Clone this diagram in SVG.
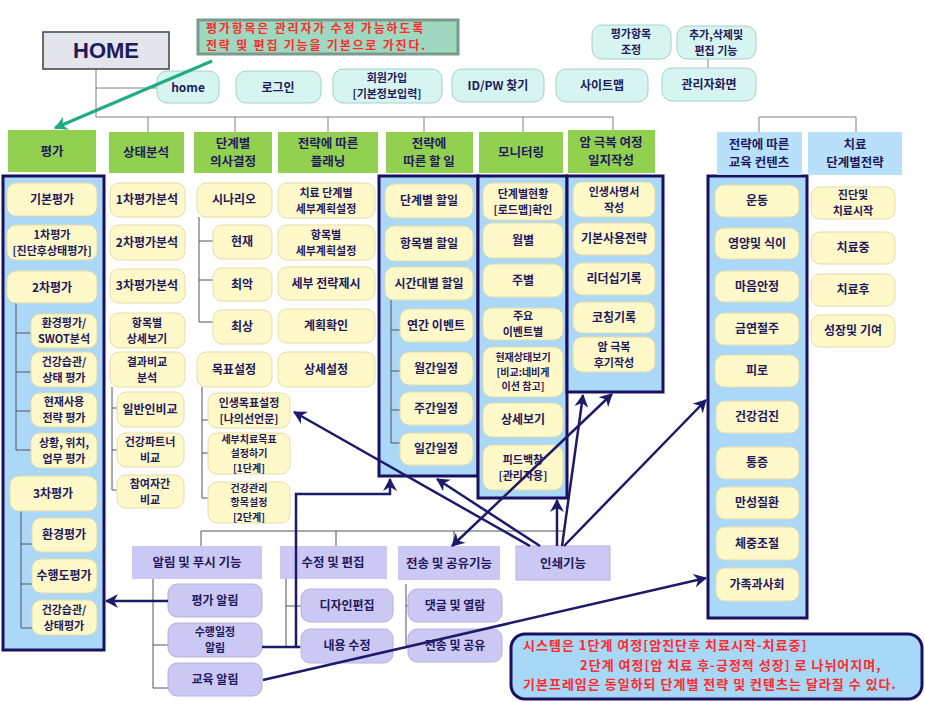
<svg xmlns="http://www.w3.org/2000/svg" width="925" height="702" viewBox="0 0 925 702">
<defs>
<style>
.t{font-family:"Noto Sans CJK KR","Noto Sans",sans-serif;font-size:12px;font-weight:bold;fill:#1e1a5c;text-anchor:middle}
.s{font-size:11px}
.x{font-size:10px}
.th{font-family:"Noto Sans CJK KR","Noto Sans",sans-serif;font-size:12.5px;font-weight:bold;fill:#1e1a5c;text-anchor:middle}
.tr{font-family:"Noto Sans CJK KR","Noto Sans",sans-serif;font-size:13px;font-weight:bold;fill:#ff2a2a;letter-spacing:1px}
.tn{font-family:"Noto Sans CJK KR","Noto Sans",sans-serif;font-size:12px;font-weight:bold;fill:#ff2a2a;letter-spacing:1.8px}
.it{fill:#fff8c8;stroke:#e6dcaa;stroke-width:1}
.cy{fill:#d6f5f0;stroke:#a8d0c8;stroke-width:1}
.gr{fill:#92d050}
.bl{fill:#b8e0fa}
.col{fill:#aad8f6;stroke:#1a1060;stroke-width:3}
.lv{fill:#ccc8f4;stroke:#b8b0e0;stroke-width:1}
.lh{fill:#ccc8f4}
.ln{stroke:#505060;stroke-width:1;fill:none}
.lg{stroke:#808080;stroke-width:1;fill:none}
.ar{stroke:#1e1a6a;stroke-width:2.5;fill:none;marker-end:url(#ah)}
</style>
<marker id="ah" markerUnits="userSpaceOnUse" markerWidth="16" markerHeight="16" refX="12" refY="7" orient="auto">
<path d="M0,0 L13,7 L0,14 L4,7 z" fill="#1e1a6a"/>
</marker>
<marker id="ahs" markerUnits="userSpaceOnUse" markerWidth="16" markerHeight="16" refX="1" refY="7" orient="auto">
<path d="M13,0 L0,7 L13,14 L9,7 z" fill="#1e1a6a"/>
</marker>
<marker id="ag" markerUnits="userSpaceOnUse" markerWidth="16" markerHeight="16" refX="12" refY="7" orient="auto">
<path d="M0,0 L13,7 L0,14 L4,7 z" fill="#22aa80"/>
</marker>
</defs>
<rect width="925" height="702" fill="#ffffff"/>

<g id="columns">
<rect class="col" x="3" y="176" width="101" height="474"/>
<rect class="col" x="379" y="176" width="99" height="300"/>
<rect class="col" x="478" y="176" width="89" height="322"/>
<rect class="col" x="567" y="176" width="96" height="216"/>
<rect class="col" x="708" y="176" width="99" height="442"/>
</g>

<g id="connectors">
<path class="lg" d="M96,69 V117 M96,88 H157 M96,117 H613 M148,117 V132 M235,117 V132 M328,117 V132 M424,117 V132 M523,117 V132 M613,117 V132"/>
<path class="lg" d="M759,132 V117 H856 V132 M708,59 V68"/>
<path class="ln" d="M16,303 V450 M16,333 H31 M16,372 H31 M16,411 H31 M16,450 H31"/>
<path class="ln" d="M21,511 V628 M21,544 H32 M21,584 H32 M21,628 H32"/>
<path class="ln" d="M112,387 V490 M112,408 H117 M112,450 H117 M112,490 H117"/>
<path class="ln" d="M199,217 V322 M199,241 H213 M199,280 H213 M199,322 H213"/>
<path class="ln" d="M202,387 V498 M202,420 H208 M202,453 H208 M202,498 H208"/>
<path class="ln" d="M391,300 V443 M391,330 H400 M391,371 H400 M391,410 H400 M391,443 H400"/>
<path class="ln" d="M201,546 V531 H563 M336,531 V546 M454,531 V546"/>
<path class="ln" d="M153,579 V688 M153,601 H168 M153,645 H168 M153,688 H168"/>
<path class="ln" d="M286,579 V647 M286,606 H301 M286,647 H301"/>
<path class="ln" d="M406,584 V645 M406,606 H408 M406,645 H408"/>
</g>

<g id="home"><rect x="43" y="32" width="126" height="37" fill="#e4e4ec" stroke="#404040" stroke-width="1.5"/><text x="106" y="58" font-family="Liberation Sans,Arial,sans-serif" font-size="22" font-weight="bold" fill="#1e1a5c" text-anchor="middle">HOME</text></g>
<g id="note"><rect x="198" y="20" width="260" height="34" fill="#9ed8c0" stroke="#7a9a8c" stroke-width="3"/><text class="tn"><tspan x="206" y="32.5">평가항목은 관리자가 수정 가능하도록</tspan><tspan x="206" y="50">전략 및 편집 기능을 기본으로 가진다.</tspan></text></g>

<g id="n-home"><rect class="cy" x="157" y="71" width="62" height="32" rx="10"/><text class="t" x="188" y="92">home</text></g>
<g id="n-login"><rect class="cy" x="236" y="71" width="85" height="32" rx="10"/><text class="t" x="278" y="92">로그인</text></g>
<g id="n-join"><rect class="cy" x="333" y="69" width="109" height="34" rx="10"/><text class="t s"><tspan x="387" y="82">회원가입</tspan><tspan x="387" y="98.2">[기본정보입력]</tspan></text></g>
<g id="n-idpw"><rect class="cy" x="452" y="69" width="92" height="33" rx="10"/><text class="t" x="498" y="90">ID/PW 찾기</text></g>
<g id="n-sitemap"><rect class="cy" x="556" y="69" width="92" height="33" rx="10"/><text class="t" x="602" y="90">사이트맵</text></g>
<g id="n-admin"><rect class="cy" x="662" y="68" width="94" height="33" rx="10"/><text class="t" x="709" y="89">관리자화면</text></g>
<g id="n-adj"><rect class="cy" x="592" y="25" width="79" height="34" rx="10"/><text class="t s"><tspan x="631" y="38">평가항목</tspan><tspan x="631" y="54.2">조정</tspan></text></g>
<g id="n-edit"><rect class="cy" x="677" y="26" width="79" height="33" rx="10"/><text class="t s"><tspan x="716" y="38.5">추가,삭제및</tspan><tspan x="716" y="54.7">편집 기능</tspan></text></g>

<g id="h1"><rect class="gr" x="8" y="130" width="88" height="42"/><text class="th" x="52" y="156">평가</text></g>
<g id="h2"><rect class="gr" x="109" y="132" width="75" height="41"/><text class="th" x="146" y="157">상태분석</text></g>
<g id="h3"><rect class="gr" x="194" y="132" width="78" height="41"/><text class="th"><tspan x="233" y="147.5">단계별</tspan><tspan x="233" y="166">의사결정</tspan></text></g>
<g id="h4"><rect class="gr" x="278" y="132" width="100" height="41"/><text class="th"><tspan x="328" y="147.5">전략에 따른</tspan><tspan x="328" y="166">플래닝</tspan></text></g>
<g id="h5"><rect class="gr" x="386" y="132" width="87" height="41"/><text class="th"><tspan x="429" y="147.5">전략에</tspan><tspan x="429" y="166">따른 할 일</tspan></text></g>
<g id="h6"><rect class="gr" x="479" y="132" width="84" height="41"/><text class="th" x="521" y="157">모니터링</text></g>
<g id="h7"><rect class="gr" x="568" y="130" width="87" height="43"/><text class="th"><tspan x="611" y="146.5">암 극복 여정</tspan><tspan x="611" y="165">일지작성</tspan></text></g>
<g id="h8"><rect class="bl" x="717" y="132" width="85" height="43"/><text class="th"><tspan x="759" y="148.5">전략에 따른</tspan><tspan x="759" y="167">교육 컨텐츠</tspan></text></g>
<g id="h9"><rect class="bl" x="808" y="132" width="94" height="43"/><text class="th"><tspan x="855" y="148.5">치료</tspan><tspan x="855" y="167">단계별전략</tspan></text></g>

<g id="c1">
<g id="c1a"><rect class="it" x="7" y="183" width="90" height="33" rx="9"/><text class="t" x="52" y="204">기본평가</text></g>
<g id="c1b"><rect class="it" x="7" y="225" width="90" height="35" rx="9"/><text class="t s"><tspan x="52" y="238.5">1차평가</tspan><tspan x="52" y="254.7">[진단후상태평가]</tspan></text></g>
<g id="c1c"><rect class="it" x="7" y="271" width="90" height="32" rx="9"/><text class="t" x="52" y="292">2차평가</text></g>
<g id="c1d"><rect class="it" x="31" y="314" width="66" height="34" rx="9"/><text class="t s"><tspan x="64" y="327">환경평가/</tspan><tspan x="64" y="343.2">SWOT분석</tspan></text></g>
<g id="c1e"><rect class="it" x="31" y="352" width="66" height="35" rx="9"/><text class="t s"><tspan x="64" y="365.5">건강습관/</tspan><tspan x="64" y="381.7">상태 평가</tspan></text></g>
<g id="c1f"><rect class="it" x="31" y="393" width="66" height="34" rx="9"/><text class="t s"><tspan x="64" y="406">현재사용</tspan><tspan x="64" y="422.2">전략 평가</tspan></text></g>
<g id="c1g"><rect class="it" x="31" y="433" width="66" height="35" rx="9"/><text class="t s"><tspan x="64" y="446.5">상황, 위치,</tspan><tspan x="64" y="462.7">업무 평가</tspan></text></g>
<g id="c1h"><rect class="it" x="10" y="476" width="87" height="35" rx="9"/><text class="t" x="53" y="498">3차평가</text></g>
<g id="c1i"><rect class="it" x="32" y="518" width="65" height="34" rx="9"/><text class="t" x="64" y="539">환경평가</text></g>
<g id="c1j"><rect class="it" x="32" y="559" width="65" height="34" rx="9"/><text class="t" x="64" y="580">수행도평가</text></g>
<g id="c1k"><rect class="it" x="32" y="600" width="65" height="35" rx="9"/><text class="t s"><tspan x="64" y="613.5">건강습관/</tspan><tspan x="64" y="629.7">상태평가</tspan></text></g>
</g>

<g id="c2">
<g id="c2a"><rect class="it" x="110" y="183" width="75" height="34" rx="9"/><text class="t" x="147" y="204">1차평가분석</text></g>
<g id="c2b"><rect class="it" x="110" y="225" width="75" height="35" rx="9"/><text class="t" x="147" y="247">2차평가분석</text></g>
<g id="c2c"><rect class="it" x="110" y="269" width="75" height="34" rx="9"/><text class="t" x="147" y="290">3차평가분석</text></g>
<g id="c2d"><rect class="it" x="110" y="313" width="75" height="35" rx="9"/><text class="t s"><tspan x="147" y="326.5">항목별</tspan><tspan x="147" y="342.7">상세보기</tspan></text></g>
<g id="c2e"><rect class="it" x="110" y="352" width="75" height="35" rx="9"/><text class="t s"><tspan x="147" y="365.5">결과비교</tspan><tspan x="147" y="381.7">분석</tspan></text></g>
<g id="c2f"><rect class="it" x="117" y="392" width="67" height="35" rx="9"/><text class="t" x="150" y="414">일반인비교</text></g>
<g id="c2g"><rect class="it" x="117" y="433" width="67" height="34" rx="9"/><text class="t s"><tspan x="150" y="446">건강파트너</tspan><tspan x="150" y="462.2">비교</tspan></text></g>
<g id="c2h"><rect class="it" x="117" y="475" width="67" height="33" rx="9"/><text class="t s"><tspan x="150" y="487.5">참여자간</tspan><tspan x="150" y="503.7">비교</tspan></text></g>
</g>

<g id="c3">
<g id="c3a"><rect class="it" x="197" y="183" width="75" height="34" rx="9"/><text class="t" x="234" y="204">시나리오</text></g>
<g id="c3b"><rect class="it" x="213" y="225" width="59" height="34" rx="9"/><text class="t" x="242" y="246">현재</text></g>
<g id="c3c"><rect class="it" x="213" y="268" width="59" height="33" rx="9"/><text class="t" x="242" y="289">최악</text></g>
<g id="c3d"><rect class="it" x="213" y="310" width="59" height="34" rx="9"/><text class="t" x="242" y="331">최상</text></g>
<g id="c3e"><rect class="it" x="197" y="352" width="75" height="35" rx="9"/><text class="t" x="234" y="374">목표설정</text></g>
<g id="c3f"><rect class="it" x="208" y="393" width="82" height="35" rx="9"/><text class="t s"><tspan x="249" y="406.5">인생목표설정</tspan><tspan x="249" y="422.7">[나의선언문]</tspan></text></g>
<g id="c3g"><rect class="it" x="208" y="433" width="82" height="41" rx="9"/><text class="t x"><tspan x="249" y="442.7">세부치료목표</tspan><tspan x="249" y="457.3">설정하기</tspan><tspan x="249" y="471.9">[1단계]</tspan></text></g>
<g id="c3h"><rect class="it" x="208" y="482" width="82" height="41" rx="9"/><text class="t x"><tspan x="249" y="491.7">건강관리</tspan><tspan x="249" y="506.3">항목설정</tspan><tspan x="249" y="520.9">[2단계]</tspan></text></g>
</g>

<g id="c4">
<g id="c4a"><rect class="it" x="278" y="183" width="97" height="35" rx="9"/><text class="t s"><tspan x="326" y="196.5">치료 단계별</tspan><tspan x="326" y="212.7">세부계획설정</tspan></text></g>
<g id="c4b"><rect class="it" x="278" y="225" width="97" height="35" rx="9"/><text class="t s"><tspan x="326" y="238.5">항목별</tspan><tspan x="326" y="254.7">세부계획설정</tspan></text></g>
<g id="c4c"><rect class="it" x="278" y="267" width="97" height="33" rx="9"/><text class="t" x="326" y="288">세부 전략제시</text></g>
<g id="c4d"><rect class="it" x="278" y="309" width="97" height="34" rx="9"/><text class="t" x="326" y="330">계획확인</text></g>
<g id="c4e"><rect class="it" x="278" y="352" width="97" height="35" rx="9"/><text class="t" x="326" y="374">상세설정</text></g>
</g>

<g id="c5">
<g id="c5a"><rect class="it" x="385" y="184" width="88" height="34" rx="9"/><text class="t" x="429" y="205">단계별 할일</text></g>
<g id="c5b"><rect class="it" x="385" y="226" width="88" height="35" rx="9"/><text class="t" x="429" y="248">항목별 할일</text></g>
<g id="c5c"><rect class="it" x="385" y="267" width="88" height="33" rx="9"/><text class="t" x="429" y="288">시간대별 할일</text></g>
<g id="c5d"><rect class="it" x="400" y="309" width="73" height="33" rx="9"/><text class="t" x="436" y="330">연간 이벤트</text></g>
<g id="c5e"><rect class="it" x="400" y="352" width="73" height="33" rx="9"/><text class="t" x="436" y="373">월간일정</text></g>
<g id="c5f"><rect class="it" x="400" y="392" width="73" height="33" rx="9"/><text class="t" x="436" y="413">주간일정</text></g>
<g id="c5g"><rect class="it" x="400" y="433" width="73" height="32" rx="9"/><text class="t" x="436" y="453">일간일정</text></g>
</g>

<g id="c6">
<g id="c6a"><rect class="it" x="483" y="183" width="80" height="37" rx="9"/><text class="t s"><tspan x="523" y="197.5">단계별현황</tspan><tspan x="523" y="213.7">[로드맵]확인</tspan></text></g>
<g id="c6b"><rect class="it" x="483" y="223" width="80" height="35" rx="9"/><text class="t" x="523" y="245">월별</text></g>
<g id="c6c"><rect class="it" x="483" y="264" width="80" height="33" rx="9"/><text class="t" x="523" y="285">주별</text></g>
<g id="c6d"><rect class="it" x="483" y="308" width="80" height="32" rx="9"/><text class="t s"><tspan x="523" y="320">주요</tspan><tspan x="523" y="336.2">이벤트별</tspan></text></g>
<g id="c6e"><rect class="it" x="483" y="347" width="80" height="50" rx="9"/><text class="t x"><tspan x="523" y="361.2">현재상태보기</tspan><tspan x="523" y="375.8">[비교:네비게</tspan><tspan x="523" y="390.4">이션 참고]</tspan></text></g>
<g id="c6f"><rect class="it" x="483" y="403" width="80" height="34" rx="9"/><text class="t" x="523" y="424">상세보기</text></g>
<g id="c6g"><rect class="it" x="483" y="445" width="80" height="45" rx="9"/><text class="t s"><tspan x="523" y="463.5">피드백창</tspan><tspan x="523" y="479.7">[관리자용]</tspan></text></g>
</g>

<g id="c7">
<g id="c7a"><rect class="it" x="573" y="182" width="82" height="35" rx="9"/><text class="t s"><tspan x="614" y="195.5">인생사명서</tspan><tspan x="614" y="211.7">작성</tspan></text></g>
<g id="c7b"><rect class="it" x="573" y="223" width="82" height="32" rx="9"/><text class="t" x="614" y="243">기본사용전략</text></g>
<g id="c7c"><rect class="it" x="573" y="263" width="82" height="32" rx="9"/><text class="t" x="614" y="283">리더십기록</text></g>
<g id="c7d"><rect class="it" x="573" y="302" width="82" height="31" rx="9"/><text class="t" x="614" y="322">코칭기록</text></g>
<g id="c7e"><rect class="it" x="573" y="337" width="82" height="35" rx="9"/><text class="t s"><tspan x="614" y="350.5">암 극복</tspan><tspan x="614" y="366.7">후기작성</tspan></text></g>
</g>

<g id="c8">
<g id="c8a"><rect class="it" x="715" y="185" width="84" height="32" rx="9"/><text class="t" x="757" y="205">운동</text></g>
<g id="c8b"><rect class="it" x="715" y="228" width="84" height="31" rx="9"/><text class="t" x="757" y="248">영양및 식이</text></g>
<g id="c8c"><rect class="it" x="715" y="271" width="84" height="31" rx="9"/><text class="t" x="757" y="291">마음안정</text></g>
<g id="c8d"><rect class="it" x="715" y="313" width="84" height="32" rx="9"/><text class="t" x="757" y="333">금연절주</text></g>
<g id="c8e"><rect class="it" x="715" y="355" width="84" height="32" rx="9"/><text class="t" x="757" y="375">피로</text></g>
<g id="c8f"><rect class="it" x="716" y="401" width="83" height="32" rx="9"/><text class="t" x="757" y="421">건강검진</text></g>
<g id="c8g"><rect class="it" x="716" y="447" width="83" height="32" rx="9"/><text class="t" x="757" y="467">통증</text></g>
<g id="c8h"><rect class="it" x="716" y="487" width="83" height="32" rx="9"/><text class="t" x="757" y="507">만성질환</text></g>
<g id="c8i"><rect class="it" x="716" y="527" width="83" height="33" rx="9"/><text class="t" x="757" y="548">체중조절</text></g>
<g id="c8j"><rect class="it" x="716" y="568" width="83" height="33" rx="9"/><text class="t" x="757" y="589">가족과사회</text></g>
</g>

<g id="c9">
<g id="c9a"><rect class="it" x="811" y="187" width="84" height="32" rx="9"/><text class="t s"><tspan x="853" y="199">진단및</tspan><tspan x="853" y="215.2">치료시작</tspan></text></g>
<g id="c9b"><rect class="it" x="811" y="232" width="84" height="32" rx="9"/><text class="t" x="853" y="252">치료중</text></g>
<g id="c9c"><rect class="it" x="811" y="274" width="84" height="32" rx="9"/><text class="t" x="853" y="294">치료후</text></g>
<g id="c9d"><rect class="it" x="811" y="315" width="84" height="32" rx="9"/><text class="t" x="853" y="335">성장및 기여</text></g>
</g>

<g id="bottom">
<g id="b1"><rect class="lh" x="132" y="546" width="130" height="33"/><text class="th" x="197" y="567">알림 및 푸시 기능</text></g>
<g id="b2"><rect class="lh" x="280" y="546" width="107" height="33"/><text class="th" x="333" y="567">수정 및 편집</text></g>
<g id="b3"><rect class="lh" x="398" y="546" width="102" height="34"/><text class="th" x="449" y="568">전송 및 공유기능</text></g>
<g id="b4"><rect class="lh" stroke="#b8b0e0" x="516" y="546" width="94" height="34"/><text class="th" x="563" y="568">인쇄기능</text></g>
<g id="b1a"><rect class="lv" x="168" y="584" width="94" height="33" rx="9"/><text class="t" x="215" y="605">평가 알림</text></g>
<g id="b1b"><rect class="lv" x="168" y="623" width="94" height="34" rx="9"/><text class="t s"><tspan x="215" y="636">수행일정</tspan><tspan x="215" y="652.2">알림</tspan></text></g>
<g id="b1c"><rect class="lv" x="168" y="663" width="94" height="33" rx="9"/><text class="t" x="215" y="684">교육 알림</text></g>
<g id="b2a"><rect class="lv" x="301" y="589" width="92" height="33" rx="9"/><text class="t" x="347" y="610">디자인편집</text></g>
<g id="b2b"><rect class="lv" x="301" y="629" width="92" height="34" rx="9"/><text class="t" x="347" y="650">내용 수정</text></g>
<g id="b3a"><rect class="lv" x="408" y="589" width="94" height="33" rx="9"/><text class="t" x="455" y="610">댓글 및 열람</text></g>
<g id="b3b"><rect class="lv" x="408" y="629" width="94" height="33" rx="9"/><text class="t" x="455" y="650">전송 및 공유</text></g>
</g>

<g id="arrows">
<path d="M212,61 L55,128" stroke="#22aa80" stroke-width="3" fill="none" marker-end="url(#ag)"/>
<path class="ar" d="M168,601 H106"/>
<path class="ar" stroke-width="4" d="M262,647 H300 M296,647 V494 H390 V479"/>
<path class="ar" d="M263,680 L706,578"/>
<path class="ar" d="M530,546 L294,412"/>
<path class="ar" d="M540,546 L437,479"/>
<path class="ar" stroke-width="3.5" d="M557,546 V500"/>
<path class="ar" d="M562,546 L583,395"/>
<path class="ar" marker-start="url(#ahs)" d="M452,546 L612,394"/>
<path class="ar" d="M564,546 L706,400"/>
</g>

<g id="footnote">
<rect x="511" y="634" width="411" height="65" rx="14" fill="#a8d8f8" stroke="#1a1060" stroke-width="3"/>
<text class="tr"><tspan x="523" y="650">시스템은 1단계 여정[암진단후 치료시작-치료중]</tspan><tspan x="580" y="669.5">2단계 여정[암 치료 후-긍정적 성장] 로 나뉘어지며,</tspan><tspan x="523" y="689">기본프레임은 동일하되 단계별 전략 및 컨텐츠는 달라질 수 있다.</tspan></text>
</g>
</svg>
